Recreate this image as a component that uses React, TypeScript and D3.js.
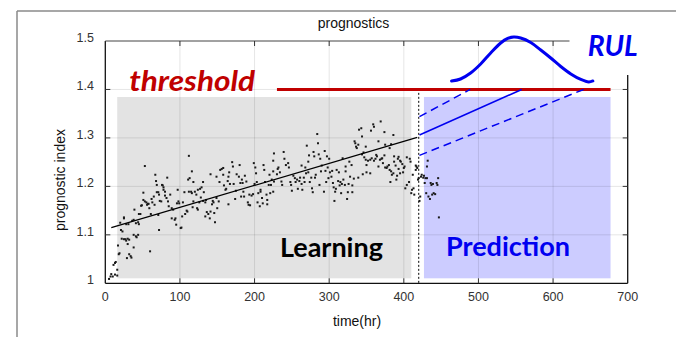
import React from 'react';
import * as d3 from 'd3';

// observed prognostic index (time in hours, index value)
const observations: [number, number][] = [
  [5, 1.009], [7, 1.014], [8, 1.019], [10, 1.014], [11, 1.038], [13, 1.042], [14, 1.044], [13, 1.018],
  [16, 1.016], [16, 1.028], [18, 1.06], [19, 1.062], [17, 1.078], [22, 1.092], [25, 1.091], [27, 1.091],
  [28, 1.088], [30, 1.092], [30, 1.081], [32, 1.09], [29, 1.052], [32, 1.06], [34, 1.056], [35, 1.053],
  [38, 1.074], [38, 1.1], [41, 1.097], [42, 1.095], [44, 1.1], [21, 1.11], [23, 1.107], [20, 1.125],
  [25, 1.134], [25, 1.136], [28, 1.122], [31, 1.122], [36, 1.129], [38, 1.131], [39, 1.152], [41, 1.124],
  [44, 1.126], [45, 1.122], [45, 1.143], [47, 1.143], [48, 1.16], [49, 1.161], [51, 1.187], [51, 1.172],
  [53, 1.169], [55, 1.167], [56, 1.162], [57, 1.164], [58, 1.164], [59, 1.155], [61, 1.143], [60, 1.066],
  [62, 1.174], [63, 1.167], [65, 1.179], [66, 1.162], [67, 1.224], [68, 1.211], [69, 1.203], [69, 1.188],
  [71, 1.188], [72, 1.183], [71, 1.141], [72, 1.11], [73, 1.17], [75, 1.169], [76, 1.203], [77, 1.202],
  [78, 1.198], [78, 1.193], [80, 1.181], [80, 1.189], [82, 1.176], [83, 1.218], [84, 1.169], [85, 1.159],
  [87, 1.183], [89, 1.134], [89, 1.155], [91, 1.152], [93, 1.131], [94, 1.134], [95, 1.121], [96, 1.165],
  [97, 1.193], [98, 1.169], [99, 1.165], [101, 1.114], [102, 1.115], [103, 1.138], [104, 1.167], [106, 1.188],
  [107, 1.143], [109, 1.15], [110, 1.148], [111, 1.214], [112, 1.263], [112, 1.189], [113, 1.217], [53, 1.242],
  [116, 1.231], [118, 1.209], [115, 1.189], [116, 1.186], [120, 1.189], [122, 1.183], [124, 1.193], [127, 1.195],
  [129, 1.198], [131, 1.209], [132, 1.188], [128, 1.177], [118, 1.169], [123, 1.155], [124, 1.152], [117, 1.157],
  [126, 1.167], [131, 1.17], [134, 1.167], [135, 1.172], [136, 1.147], [134, 1.138], [138, 1.143], [140, 1.134],
  [141, 1.148], [143, 1.163], [144, 1.17], [145, 1.167], [146, 1.145], [147, 1.126], [149, 1.176], [152, 1.169],
  [150, 1.155], [141, 1.225], [149, 1.22], [153, 1.209], [154, 1.234], [156, 1.236], [158, 1.224], [158, 1.238],
  [159, 1.202], [161, 1.193], [162, 1.195], [164, 1.211], [165, 1.22], [166, 1.229], [167, 1.205], [165, 1.163],
  [170, 1.25], [171, 1.241], [172, 1.205], [174, 1.174], [175, 1.191], [176, 1.225], [179, 1.22], [180, 1.244],
  [181, 1.207], [182, 1.179], [183, 1.214], [184, 1.207], [185, 1.189], [186, 1.179], [187, 1.222], [189, 1.21],
  [191, 1.167], [192, 1.162], [193, 1.183], [194, 1.161], [196, 1.181], [198, 1.184], [199, 1.248], [200, 1.205],
  [201, 1.239], [202, 1.227], [203, 1.209], [204, 1.167], [205, 1.186], [207, 1.159], [208, 1.189], [208, 1.193],
  [210, 1.176], [211, 1.165], [212, 1.244], [213, 1.234], [214, 1.209], [216, 1.183], [217, 1.172], [217, 1.163],
  [219, 1.203], [220, 1.224], [221, 1.186], [222, 1.203], [223, 1.214], [225, 1.253], [225, 1.231], [226, 1.268],
  [225, 1.189], [226, 1.21], [230, 1.225], [231, 1.236], [232, 1.239], [234, 1.229], [236, 1.21], [237, 1.203],
  [239, 1.271], [240, 1.257], [242, 1.244], [245, 1.248], [246, 1.239], [248, 1.209], [249, 1.203], [250, 1.191],
  [252, 1.222], [254, 1.217], [255, 1.209], [257, 1.214], [258, 1.195], [260, 1.211], [261, 1.218], [263, 1.205],
  [263, 1.243], [264, 1.193], [266, 1.218], [267, 1.209], [268, 1.239], [269, 1.227], [270, 1.284], [272, 1.251],
  [272, 1.229], [273, 1.264], [274, 1.209], [276, 1.218], [277, 1.196], [278, 1.188], [279, 1.271], [280, 1.262],
  [281, 1.218], [282, 1.224], [284, 1.308], [285, 1.289], [286, 1.266], [287, 1.203], [288, 1.257], [289, 1.231],
  [290, 1.243], [293, 1.189], [294, 1.273], [295, 1.232], [296, 1.209], [297, 1.262], [298, 1.239], [299, 1.217],
  [300, 1.257], [301, 1.229], [303, 1.22], [304, 1.232], [305, 1.207], [306, 1.198], [307, 1.17], [308, 1.189],
  [309, 1.195], [310, 1.234], [312, 1.211], [313, 1.229], [314, 1.202], [315, 1.209], [316, 1.186], [317, 1.205],
  [318, 1.258], [319, 1.214], [321, 1.203], [322, 1.231], [322, 1.241], [324, 1.174], [325, 1.188], [326, 1.205],
  [327, 1.251], [328, 1.22], [330, 1.244], [331, 1.188], [331, 1.202], [333, 1.216], [334, 1.293], [335, 1.289],
  [336, 1.282], [337, 1.279], [339, 1.218], [339, 1.286], [340, 1.317], [343, 1.32], [344, 1.303], [349, 1.282],
  [356, 1.315], [359, 1.328], [360, 1.323], [369, 1.334], [374, 1.312], [386, 1.306], [366, 1.293], [375, 1.286],
  [383, 1.287], [381, 1.279], [344, 1.266], [347, 1.26], [349, 1.255], [350, 1.244], [352, 1.253], [355, 1.255],
  [357, 1.258], [360, 1.253], [362, 1.257], [363, 1.265], [364, 1.262], [366, 1.241], [368, 1.255], [370, 1.257],
  [371, 1.258], [372, 1.248], [374, 1.264], [375, 1.239], [377, 1.238], [378, 1.241], [380, 1.244], [381, 1.234],
  [382, 1.209], [383, 1.231], [384, 1.224], [386, 1.227], [387, 1.262], [387, 1.251], [389, 1.243], [390, 1.214],
  [391, 1.222], [392, 1.257], [393, 1.236], [395, 1.253], [395, 1.227], [396, 1.251], [398, 1.246], [399, 1.229],
  [400, 1.238], [401, 1.241], [402, 1.196], [404, 1.203], [404, 1.26], [407, 1.209], [408, 1.257], [409, 1.251],
  [410, 1.186], [411, 1.193], [412, 1.224], [413, 1.196], [414, 1.183], [416, 1.243], [417, 1.241], [418, 1.238],
  [419, 1.214], [420, 1.217], [421, 1.17], [422, 1.179], [423, 1.22], [424, 1.224], [426, 1.218], [427, 1.222],
  [428, 1.207], [429, 1.217], [430, 1.186], [431, 1.241], [432, 1.253], [433, 1.179], [435, 1.174], [436, 1.207],
  [437, 1.203], [438, 1.183], [439, 1.205], [440, 1.186], [442, 1.184], [444, 1.207], [445, 1.203], [446, 1.217],
  [447, 1.136], [345, 1.225], [350, 1.229], [355, 1.227], [346, 1.27], [393, 1.261], [416, 1.234], [431, 1.217],
];

const fitLine: [number, number][] = [[8, 1.115], [418, 1.301]];
const predMean: [number, number][] = [[421, 1.306], [558, 1.4]];
const predUpper: [number, number][] = [[421, 1.344], [489, 1.4]];
const predLower: [number, number][] = [[421, 1.264], [641, 1.4]];

// RUL distribution sketch drawn above the threshold
const rulCurve: [number, number][] = [
  [464, 1.4175], [476, 1.4216], [489.5, 1.434], [503, 1.4526], [516.4, 1.4753], [529.8, 1.4959],
  [539.2, 1.5052], [547.3, 1.5082], [556.6, 1.5062], [570.1, 1.4969], [583.5, 1.4814], [596.9, 1.4649],
  [610.3, 1.4474], [623.8, 1.432], [637.2, 1.4206], [647.9, 1.4155], [653.3, 1.4175],
];

const threshold = 1.4;
const thresholdSpan = [230, 677];
const learningSpan = [16, 410];
const predictionSpan = [427, 677];
const shadeRange = [1.0103, 1.3845];
const splitTime = 420;

const xTicks = [0, 100, 200, 300, 400, 500, 600, 700];
const yTicks = [1, 1.1, 1.2, 1.3, 1.4, 1.5];

const W = 676;
const H = 337;

export default function App() {
  const x = d3.scaleLinear().domain([0, 700]).range([105.3, 627.7]);
  const y = d3.scaleLinear().domain([1, 1.5]).range([283.3, 41]);
  const line = d3.line<[number, number]>().x((d) => x(d[0])).y((d) => y(d[1]));
  const curve = d3.line<[number, number]>().x((d) => x(d[0])).y((d) => y(d[1])).curve(d3.curveCatmullRom);

  const x0 = x(0), x1 = x(700), yb = y(1), yt = y(1.5);
  const tickFont = 'Liberation Sans, Arial, sans-serif';

  return (
    <svg width={W} height={H} style={{ position: 'absolute', left: 0, top: 0 }}>
      <rect width={W} height={H} fill="#fff" />
      {/* outer frame */}
      <line x1={17} y1={11} x2={W} y2={11} stroke="#8a8a8a" strokeWidth={1.5} />
      <line x1={17} y1={11} x2={17} y2={H} stroke="#8a8a8a" strokeWidth={1.5} />

      {/* shaded windows */}
      <rect x={x(learningSpan[0])} y={y(shadeRange[1])} width={x(learningSpan[1]) - x(learningSpan[0])}
        height={y(shadeRange[0]) - y(shadeRange[1])} fill="#e3e3e3" />
      <rect x={x(predictionSpan[0])} y={y(shadeRange[1])} width={x(predictionSpan[1]) - x(predictionSpan[0])}
        height={y(shadeRange[0]) - y(shadeRange[1])} fill="#ccccff" />

      {/* grid */}
      {xTicks.slice(1, -1).map((t) => (
        <line key={'gx' + t} x1={x(t)} x2={x(t)} y1={yt} y2={yb} stroke="rgba(0,0,0,0.1)" />
      ))}
      {yTicks.slice(1, -1).map((t) => (
        <line key={'gy' + t} x1={x0} x2={x1} y1={y(t)} y2={y(t)} stroke="rgba(0,0,0,0.1)" />
      ))}

      {/* axes */}
      <line x1={x0} x2={x1} y1={yb} y2={yb} stroke="#111" strokeWidth={1.3} />
      <line x1={x0} x2={x0} y1={yt} y2={yb} stroke="#111" strokeWidth={1.3} />
      <line x1={x0} x2={x(622)} y1={yt} y2={yt} stroke="#444" strokeWidth={1} />
      <line x1={x1} x2={x1} y1={y(1.43)} y2={yb} stroke="#111" strokeWidth={1.3} />
      {xTicks.slice(1, -1).map((t) => (
        <g key={'tx' + t}>
          <line x1={x(t)} x2={x(t)} y1={yb} y2={yb - 5} stroke="#333" />
          <line x1={x(t)} x2={x(t)} y1={yt} y2={yt + 5} stroke="#333" />
        </g>
      ))}
      {yTicks.slice(1, -1).map((t) => (
        <g key={'ty' + t}>
          <line x1={x0} x2={x0 + 5} y1={y(t)} y2={y(t)} stroke="#333" />
          <line x1={x1} x2={x1 - 5} y1={y(t)} y2={y(t)} stroke="#333" />
        </g>
      ))}
      {xTicks.map((t) => (
        <text key={'lx' + t} x={x(t)} y={301} textAnchor="middle" fontFamily={tickFont} fontSize={12.5} fill="#333">{t}</text>
      ))}
      {yTicks.map((t) => (
        <text key={'ly' + t} x={94} y={y(t) + 1} textAnchor="end" fontFamily={tickFont} fontSize={12.5} fill="#333">
          {t === 1 ? '1' : d3.format('.1f')(t)}
        </text>
      ))}

      <text x={353.5} y={28} textAnchor="middle" fontFamily={tickFont} fontSize={14} fill="#111">prognostics</text>
      <text x={357} y={326} textAnchor="middle" fontFamily={tickFont} fontSize={14} fill="#111">time(hr)</text>
      <text transform="translate(65,180) rotate(-90)" textAnchor="middle" fontFamily={tickFont} fontSize={14} fill="#111">prognostic index</text>

      {/* region labels */}
      <text x={x(234)} y={y(1.0546)} fontFamily="Lato, sans-serif" fontWeight="bold" fontSize={27}
        textLength={103} lengthAdjust="spacingAndGlyphs" fill="#000">Learning</text>
      <text x={x(456.5)} y={y(1.056)} fontFamily="Lato, sans-serif" fontWeight="bold" fontSize={27}
        textLength={124} lengthAdjust="spacingAndGlyphs" fill="#0000f0">Prediction</text>

      {/* threshold */}
      <line x1={x(thresholdSpan[0])} x2={x(thresholdSpan[1])} y1={y(threshold)} y2={y(threshold)} stroke="#c00000" strokeWidth={3} />
      <text x={x(32)} y={y(1.397)} fontFamily="Lato, sans-serif" fontWeight="bold" fontStyle="italic" fontSize={28}
        textLength={126} lengthAdjust="spacingAndGlyphs" fill="#c00000">threshold</text>

      {/* split marker */}
      <line x1={x(splitTime)} x2={x(splitTime)} y1={y(1.393)} y2={yb} stroke="#000" strokeWidth={1} strokeDasharray="2,2" />

      {/* observations */}
      {observations.map((d, i) => (
        <rect key={i} x={x(d[0]) - 1} y={y(d[1]) - 1} width={2} height={2} fill="#1a1a1a" />
      ))}

      {/* trend and extrapolation */}
      <path d={line(fitLine) ?? ''} stroke="#000" strokeWidth={1.2} fill="none" />
      <path d={line(predMean) ?? ''} stroke="#0000f0" strokeWidth={1.5} fill="none" />
      <path d={line(predUpper) ?? ''} stroke="#0000f0" strokeWidth={1.5} fill="none" strokeDasharray="8,5" />
      <path d={line(predLower) ?? ''} stroke="#0000f0" strokeWidth={1.5} fill="none" strokeDasharray="8,5" />

      {/* RUL pdf */}
      <path d={curve(rulCurve) ?? ''} stroke="#0000f0" strokeWidth={3} fill="none" strokeLinecap="round" />
      <text x={x(646.4)} y={y(1.469)} fontFamily="Lato, sans-serif" fontWeight="bold" fontStyle="italic" fontSize={29}
        textLength={50} lengthAdjust="spacingAndGlyphs" fill="#0000f0">RUL</text>
    </svg>
  );
}
